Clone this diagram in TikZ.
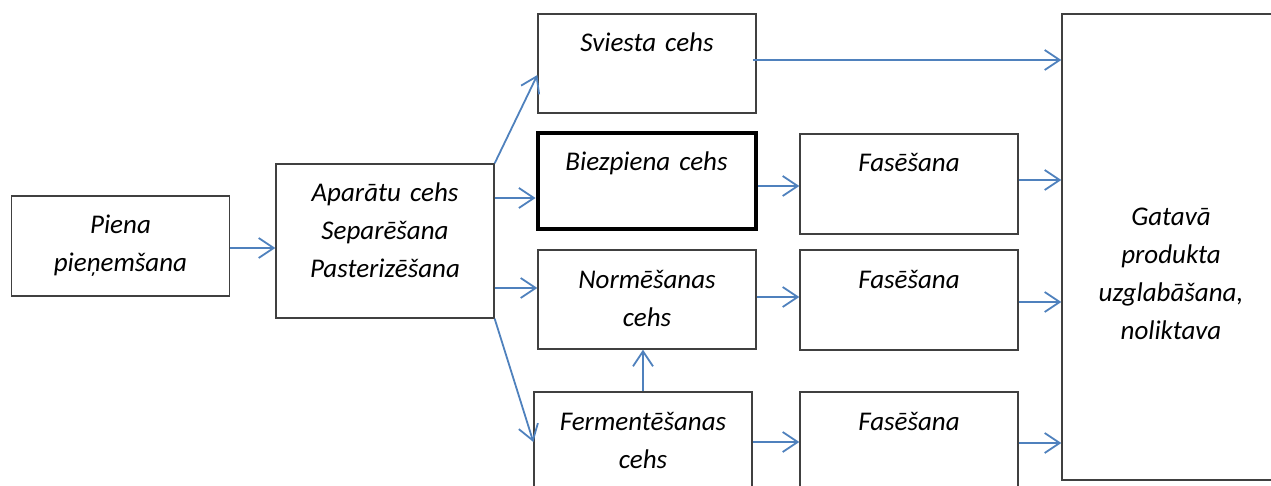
\documentclass[tikz,border=0pt]{standalone}
\usepackage{fontspec}
\setmainfont{Carlito}
\usepackage{xcolor}
\usetikzlibrary{arrows.meta, positioning}
\definecolor{flowblue}{HTML}{4F81BD}

\begin{document}
\begin{tikzpicture}[
    x=1pt, y=-1pt,
    box/.style={draw=black!75, line width=1.3pt, text width=218pt, align=center, inner sep=0pt,
                font=\fontsize{27}{38}\selectfont\itshape, text height=38pt, text depth=#1},
    box/.default=62pt,
    arrow/.style={-{Straight Barb[length=15pt, width=20pt]}, line width=1.8pt, color=flowblue}
]
\useasboundingbox (0,0) rectangle (1271,486);

% Input and separation
\node[box] (piena) at (120.5,246) {Piena\\pieņemšana};
\node[box=116pt] (apar) at (385,241) {Aparātu cehs\\Separēšana\\Pasterizēšana};

% Workshops
\node[box=61pt] (sviesta) at (647,63.5) {Sviesta cehs};
\node[box=58pt, draw=black, line width=4pt] (biez) at (646.5,181) {Biezpiena cehs};
\node[box=61pt] (norm) at (647,299.5) {Normēšanas\\cehs};
\node[box=61pt] (ferm) at (643,441.5) {Fermentēšanas\\cehs};

% Packing
\node[box] (fas1) at (909,184) {Fasēšana};
\node[box] (fas2) at (909,300) {Fasēšana};
\node[box=61pt] (fas3) at (909,441.5) {Fasēšana};

% Storage
\node[box=254pt, text height=212pt] (gat) at (1171,247) {Gatavā\\produkta\\uzglabāšana,\\noliktava};

% Arrows
\draw[arrow] ([yshift=-2pt]piena.east) -- ([yshift=-2pt]piena.east -| apar.west);
\draw[arrow] (apar.north east) -- ([yshift=-11.5pt]sviesta.west);
\draw[arrow] ([yshift=43pt]apar.east) -- ([yshift=43pt]apar.east -| biez.west);
\draw[arrow] ([yshift=-47pt]apar.east) -- ([yshift=-47pt]apar.east -| norm.west);
\draw[arrow] (apar.south east) -- ([yshift=-0.5pt]ferm.west);
\draw[arrow] (ferm.north) -- (ferm.north |- norm.south);
\draw[arrow] ([xshift=-4pt, yshift=3.5pt]sviesta.east) -- ([yshift=3.5pt]sviesta.east -| gat.west);
\draw[arrow] ([yshift=-5pt]biez.east) -- ([yshift=-5pt]biez.east -| fas1.west);
\draw[arrow] ([yshift=2.5pt]norm.east) -- ([yshift=2.5pt]norm.east -| fas2.west);
\draw[arrow] ([yshift=-0.5pt]ferm.east) -- ([yshift=-0.5pt]ferm.east -| fas3.west);
\draw[arrow] ([yshift=4pt]fas1.east) -- ([yshift=4pt]fas1.east -| gat.west);
\draw[arrow] ([yshift=-2pt]fas2.east) -- ([yshift=-2pt]fas2.east -| gat.west);
\draw[arrow] ([yshift=-1.5pt]fas3.east) -- ([yshift=-1.5pt]fas3.east -| gat.west);

\end{tikzpicture}
\end{document}
